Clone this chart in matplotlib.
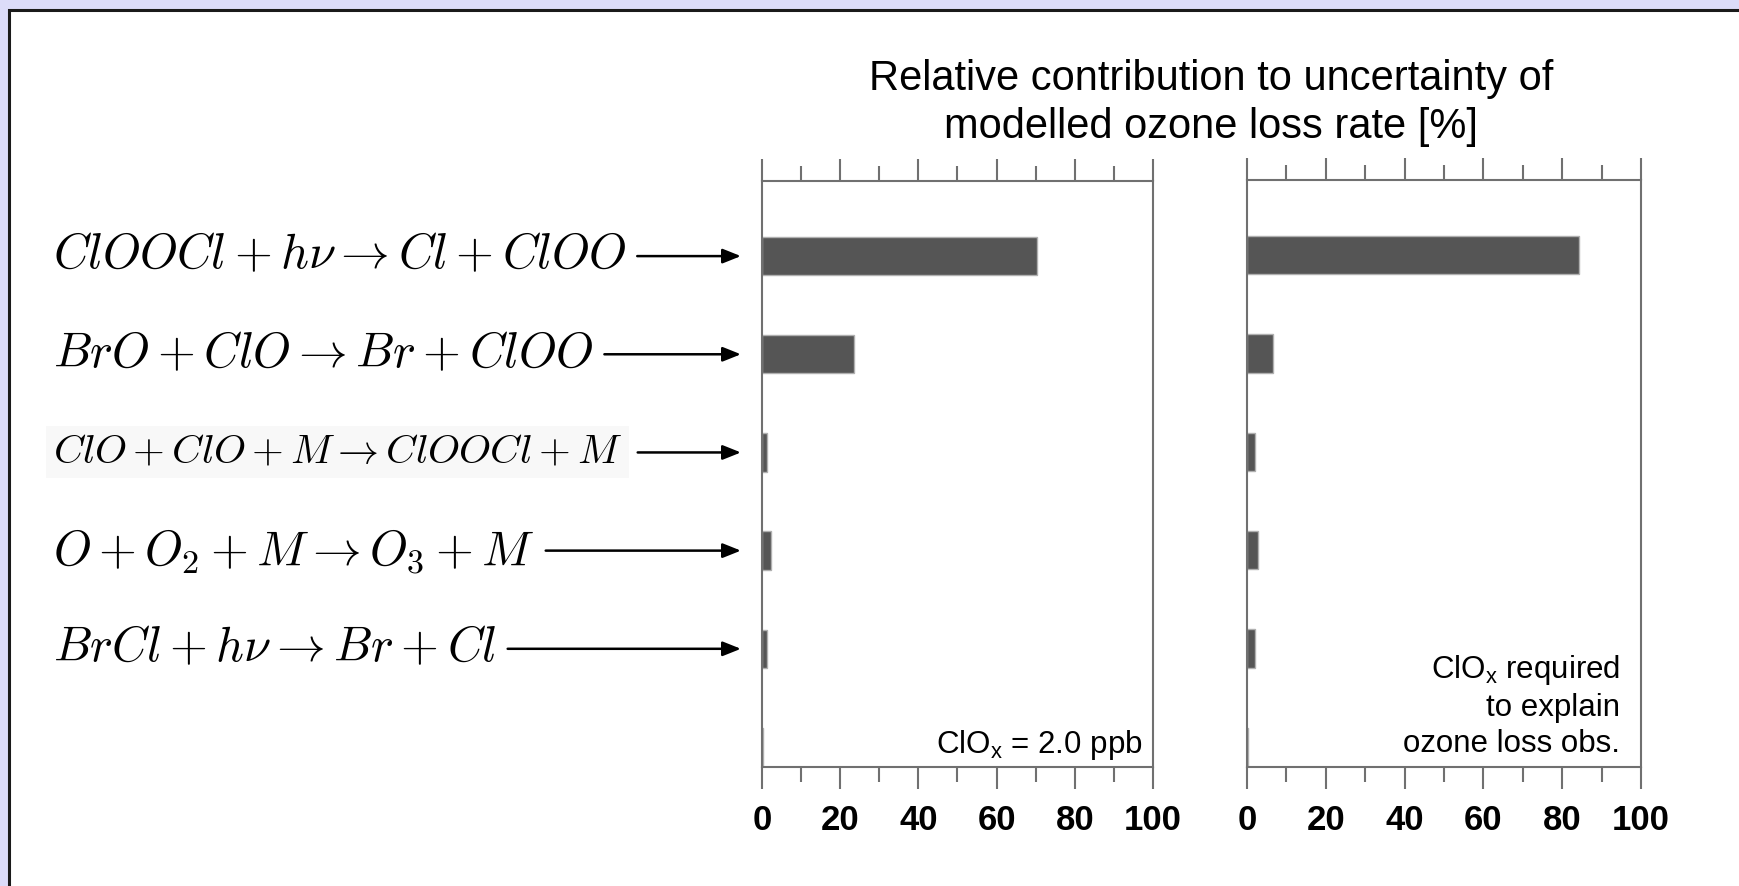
import matplotlib
matplotlib.use('Agg')
import matplotlib.pyplot as plt
from matplotlib.patches import Rectangle
from matplotlib.transforms import blended_transform_factory
from matplotlib.ticker import MultipleLocator

plt.rcParams['font.family'] = ['Liberation Sans', 'DejaVu Sans']
plt.rcParams['mathtext.fontset'] = 'custom'
plt.rcParams['mathtext.rm'] = 'Liberation Sans'
plt.rcParams['mathtext.it'] = 'Liberation Sans:italic'
plt.rcParams['mathtext.bf'] = 'Liberation Sans:bold'

# ---------------- data ----------------
reactions = [
    r'$ClOOCl + h\nu \rightarrow Cl + ClOO$',
    r'$BrO + ClO \rightarrow Br + ClOO$',
    r'$ClO + ClO + M \rightarrow ClOOCl + M$',
    r'$O + O_2 + M \rightarrow O_3 + M$',
    r'$BrCl + h\nu \rightarrow Br + Cl$',
]
contrib_clox_2ppb = [70.3, 23.6, 1.3, 2.3, 1.3, 0.3]
contrib_clox_required = [84.3, 6.6, 2.0, 2.8, 2.0, 0.2]
xticks = [0, 20, 40, 60, 80, 100]
title = 'Relative contribution to uncertainty of\nmodelled ozone loss rate [%]'
note_left = r'ClO$_\mathrm{x}$ = 2.0 ppb'
note_right = 'ClO$_\\mathrm{x}$ required\nto explain\nozone loss obs.'

# ---------------- figure ----------------
W, H = 1740, 886
fig = plt.figure(figsize=(W / 100, H / 100), dpi=100, facecolor='#dcdcf9')
bg = Rectangle((9.5 / W, -0.1), 1.5, 1 - 9.5 / H + 0.1, transform=fig.transFigure,
               facecolor='white', edgecolor='#1a1a1a', lw=2.2, zorder=-10)
fig.patches.append(bg)

ax1 = fig.add_axes([762 / W, 119 / H, 391 / W, 586 / H])
ax2 = fig.add_axes([1247 / W, 119 / H, 394 / W, 587 / H])

rows = list(range(len(contrib_clox_2ppb)))
spine_col = '#707070'
for ax, vals in ((ax1, contrib_clox_2ppb), (ax2, contrib_clox_required)):
    ax.barh(rows, vals, height=0.39, color='#555555', edgecolor='#b0b0b0', lw=1)
    ax.set_xlim(0, 100)
    ax.set_ylim(5.204, -0.765)
    ax.set_xticks(xticks)
    ax.set_xticklabels([str(t) for t in xticks])
    ax.xaxis.set_minor_locator(MultipleLocator(10))
    ax.tick_params(axis='x', which='both', direction='out', top=True, bottom=True,
                   labeltop=False, labelbottom=True, color=spine_col, width=1.5)
    ax.tick_params(axis='x', which='major', length=16, labelsize=25, pad=11)
    ax.tick_params(axis='x', which='minor', length=11)
    for lbl in ax.get_xticklabels():
        lbl.set_fontweight('bold')
    ax.set_yticks([])
    for s in ax.spines.values():
        s.set_color(spine_col)
        s.set_linewidth(1.5)

# panel notes
ax1.text((1143 - 762) / 391, (767 - 753) / 586, note_left, transform=ax1.transAxes,
         ha='right', va='baseline', fontsize=22.5)
ax2.text((1620 - 1247) / 394, (767 - 759) / 587, note_right, transform=ax2.transAxes,
         ha='right', va='bottom', fontsize=22.5, linespacing=1.26, multialignment='right')

# title
fig.text(1211 / W, 1 - 103 / H, title, ha='center', va='center', fontsize=30,
         linespacing=1.26)

# reaction labels with arrows
trans_text = blended_transform_factory(fig.transFigure, ax1.transData)
trans_xy = blended_transform_factory(ax1.transAxes, ax1.transData)
for i, label in enumerate(reactions):
    fs = 29.5 if i == 2 else 35
    bbox = dict(facecolor='#f8f8f8', edgecolor='none', pad=5) if i == 2 else None
    ax1.annotate(label, xy=(-0.054, rows[i]), xycoords=trans_xy,
                 xytext=(53 / W, rows[i]), textcoords=trans_text,
                 ha='left', va='center', fontsize=fs, math_fontfamily='cm',
                 bbox=bbox, annotation_clip=False,
                 arrowprops=dict(arrowstyle='-|>,head_length=0.55,head_width=0.22',
                                 color='black', lw=1.8, shrinkA=6, shrinkB=0,
                                 mutation_scale=20))

fig.savefig('out.png', dpi=100, facecolor=fig.get_facecolor())
